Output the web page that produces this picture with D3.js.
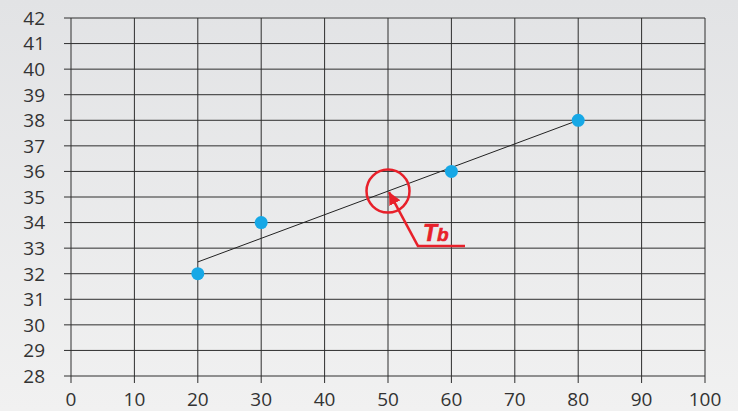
<!DOCTYPE html>
<html>
<head>
<meta charset="utf-8">
<script src="https://cdn.jsdelivr.net/npm/d3@7"></script>
<style>
  html, body { margin: 0; padding: 0; }
  svg { display: block; }
</style>
</head>
<body>
<svg id="chart" width="738" height="411"></svg>
<script>
// Measured points
const xValues = [20, 30, 60, 80];
const yValues = [32, 34, 36, 38];

// Fitted straight line through the points (endpoints)
const fitX = [20, 80];
const fitY = [32.46, 38.0];

// Marked point on the fitted line
const markX = 50;
const markY = 35.23;
const markLabel = "T";
const markSub = "b";

// Axis ticks
const xTicks = [0, 10, 20, 30, 40, 50, 60, 70, 80, 90, 100];
const yTicks = [28, 29, 30, 31, 32, 33, 34, 35, 36, 37, 38, 39, 40, 41, 42];

const W = 738, H = 411;
const margin = { left: 71, right: 33, top: 18, bottom: 35 };

const svg = d3.select("#chart");

const defs = svg.append("defs");
const grad = defs.append("linearGradient")
  .attr("id", "bg").attr("x1", 0).attr("y1", 0).attr("x2", 0).attr("y2", 1);
grad.append("stop").attr("offset", "0%").attr("stop-color", "#e2e3e5");
grad.append("stop").attr("offset", "100%").attr("stop-color", "#f1f1f1");

const marker = defs.append("marker")
  .attr("id", "arrowhead")
  .attr("viewBox", "0 0 10 10")
  .attr("refX", 10).attr("refY", 5)
  .attr("markerWidth", 5).attr("markerHeight", 5)
  .attr("markerUnits", "strokeWidth")
  .attr("orient", "auto");
marker.append("path").attr("d", "M0,0 L10,5 L0,10 Z").attr("fill", "#e8202a");

svg.append("rect").attr("width", W).attr("height", H).attr("fill", "url(#bg)");

const x = d3.scaleLinear().domain([0, 100]).range([margin.left, W - margin.right]);
const y = d3.scaleLinear().domain([28, 42]).range([H - margin.bottom, margin.top]);

const gridColor = "#2e2e2e";
const font = "'Open Sans', 'Noto Sans', sans-serif";

// Grid
const grid = svg.append("g");
grid.selectAll("line.h").data(yTicks).join("line")
  .attr("x1", x(0) - 7).attr("x2", x(100))
  .attr("y1", d => y(d)).attr("y2", d => y(d))
  .attr("stroke", gridColor).attr("stroke-width", 1);
grid.selectAll("line.v").data(xTicks).join("line")
  .attr("x1", d => x(d)).attr("x2", d => x(d))
  .attr("y1", y(42)).attr("y2", y(28) + 7)
  .attr("stroke", gridColor).attr("stroke-width", 1);

// Axes labels
svg.append("g").selectAll("text").data(yTicks).join("text")
  .attr("x", 45).attr("y", d => y(d))
  .attr("dy", "0.36em")
  .attr("text-anchor", "end")
  .attr("font-family", font).attr("font-size", 19)
  .attr("fill", "#333")
  .text(d => d);

svg.append("g").selectAll("text").data(xTicks).join("text")
  .attr("x", d => x(d)).attr("y", 406)
  .attr("text-anchor", "middle")
  .attr("font-family", font).attr("font-size", 19)
  .attr("fill", "#333")
  .text(d => d);

// Fitted line
svg.append("line")
  .attr("x1", x(fitX[0])).attr("y1", y(fitY[0]))
  .attr("x2", x(fitX[1])).attr("y2", y(fitY[1]))
  .attr("stroke", "#222").attr("stroke-width", 1);

// Points
svg.append("g").selectAll("circle").data(xValues.map((v, i) => [v, yValues[i]])).join("circle")
  .attr("cx", d => x(d[0])).attr("cy", d => y(d[1]))
  .attr("r", 6.5)
  .attr("fill", "#17a8e6");

// Marker circle, arrow and label
const red = "#e8202a";
const cx = x(markX), cy = y(markY);
svg.append("circle")
  .attr("cx", cx).attr("cy", cy).attr("r", 21.5)
  .attr("fill", "none").attr("stroke", red).attr("stroke-width", 2.5);

const tailX = cx + 30, tailY = cy + 55;
svg.append("line")
  .attr("x1", tailX).attr("y1", tailY)
  .attr("x2", cx + 1).attr("y2", cy + 1)
  .attr("stroke", red).attr("stroke-width", 2.5)
  .attr("marker-end", "url(#arrowhead)");
svg.append("line")
  .attr("x1", tailX - 1).attr("y1", tailY)
  .attr("x2", tailX + 47).attr("y2", tailY)
  .attr("stroke", red).attr("stroke-width", 2.5);

const label = svg.append("text")
  .attr("x", tailX + 5).attr("y", tailY - 5.5)
  .attr("font-family", "'Liberation Sans', Arial, sans-serif")
  .attr("font-weight", "bold").attr("font-style", "italic")
  .attr("fill", red)
  .attr("stroke", red).attr("stroke-width", 0.6);
label.append("tspan").attr("font-size", 23).text(markLabel);
label.append("tspan").attr("font-size", 19).text(markSub);
</script>
</body>
</html>
